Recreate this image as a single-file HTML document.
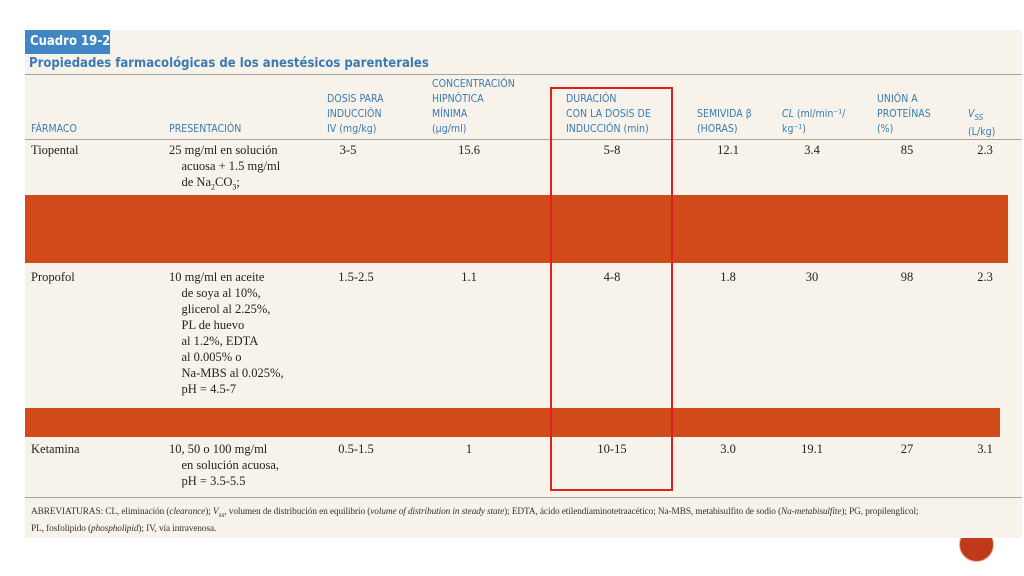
<!DOCTYPE html>
<html><head><meta charset="utf-8"><style>
body{margin:0;width:1024px;height:576px;background:#fff;position:relative;overflow:hidden;font-family:"Liberation Serif",serif}
.a{position:absolute;white-space:nowrap}
.h{font-family:"DejaVu Sans Condensed","DejaVu Sans",sans-serif;color:#3a7bb5;font-size:10.5px;line-height:15px}
.t{font-size:12.5px;line-height:16px;color:#222}
.c{text-align:center;width:80px}
.ln{position:absolute;left:25px;width:997px;height:1px;background:#a8a49a}
</style></head><body>
<div class="a" style="left:959px;top:527px;width:33px;height:33px;border-radius:50%;background:#c0391b;border:1px solid #e8b0a0"></div>
<div class="a" style="left:25px;top:30px;width:997px;height:508px;background:#f7f3ea"></div>
<div class="a" style="left:25px;top:30px;width:85px;height:24px;background:#3f86c2;color:#fff;font:bold 13px 'DejaVu Sans Condensed','DejaVu Sans',sans-serif;line-height:24px;text-indent:5px">Cuadro 19-2</div>
<div class="a" style="left:29px;top:56px;color:#3a7bb5;font:bold 13px 'DejaVu Sans Condensed','DejaVu Sans',sans-serif;line-height:16px">Propiedades farmacológicas de los anestésicos parenterales</div>
<div class="ln" style="top:74px"></div>
<div class="ln" style="top:139px"></div>
<div class="ln" style="top:497px"></div>
<div class="a h" style="left:31px;top:122px">FÁRMACO</div>
<div class="a h" style="left:169px;top:122px">PRESENTACIÓN</div>
<div class="a h" style="left:327px;top:92px">DOSIS PARA<br>INDUCCIÓN<br>IV (mg/kg)</div>
<div class="a h" style="left:432px;top:77px">CONCENTRACIÓN<br>HIPNÓTICA<br>MÍNIMA<br>(μg/ml)</div>
<div class="a h" style="left:566px;top:92px">DURACIÓN<br>CON LA DOSIS DE<br>INDUCCIÓN (min)</div>
<div class="a h" style="left:697px;top:107px">SEMIVIDA β<br>(HORAS)</div>
<div class="a h" style="left:782px;top:107px"><i>CL</i> (ml/min⁻¹/<br>kg⁻¹)</div>
<div class="a h" style="left:877px;top:92px">UNIÓN A<br>PROTEÍNAS<br>(%)</div>
<div class="a h" style="left:968px;top:107px"><i>V<sub style="font-size:8px">SS</sub></i><br>(L/kg)</div>

<div class="a t" style="left:31px;top:142px">Tiopental</div>
<div class="a t" style="left:169px;top:142px">25 mg/ml en solución<br>&nbsp;&nbsp;&nbsp;&nbsp;acuosa + 1.5 mg/ml<br>&nbsp;&nbsp;&nbsp;&nbsp;de Na<sub style="font-size:8px">2</sub>CO<sub style="font-size:8px">3</sub>;</div>
<div class="a t c" style="left:308px;top:142px">3-5</div>
<div class="a t c" style="left:429px;top:142px">15.6</div>
<div class="a t c" style="left:572px;top:142px">5-8</div>
<div class="a t c" style="left:688px;top:142px">12.1</div>
<div class="a t c" style="left:772px;top:142px">3.4</div>
<div class="a t c" style="left:867px;top:142px">85</div>
<div class="a t c" style="left:945px;top:142px">2.3</div>

<div class="a t" style="left:31px;top:269px">Propofol</div>
<div class="a t" style="left:169px;top:269px">10 mg/ml en aceite<br>&nbsp;&nbsp;&nbsp;&nbsp;de soya al 10%,<br>&nbsp;&nbsp;&nbsp;&nbsp;glicerol al 2.25%,<br>&nbsp;&nbsp;&nbsp;&nbsp;PL de huevo<br>&nbsp;&nbsp;&nbsp;&nbsp;al 1.2%, EDTA<br>&nbsp;&nbsp;&nbsp;&nbsp;al 0.005% o<br>&nbsp;&nbsp;&nbsp;&nbsp;Na-MBS al 0.025%,<br>&nbsp;&nbsp;&nbsp;&nbsp;pH = 4.5-7</div>
<div class="a t c" style="left:316px;top:269px">1.5-2.5</div>
<div class="a t c" style="left:429px;top:269px">1.1</div>
<div class="a t c" style="left:572px;top:269px">4-8</div>
<div class="a t c" style="left:688px;top:269px">1.8</div>
<div class="a t c" style="left:772px;top:269px">30</div>
<div class="a t c" style="left:867px;top:269px">98</div>
<div class="a t c" style="left:945px;top:269px">2.3</div>

<div class="a t" style="left:31px;top:441px">Ketamina</div>
<div class="a t" style="left:169px;top:441px">10, 50 o 100 mg/ml<br>&nbsp;&nbsp;&nbsp;&nbsp;en solución acuosa,<br>&nbsp;&nbsp;&nbsp;&nbsp;pH = 3.5-5.5</div>
<div class="a t c" style="left:316px;top:441px">0.5-1.5</div>
<div class="a t c" style="left:429px;top:441px">1</div>
<div class="a t c" style="left:572px;top:441px">10-15</div>
<div class="a t c" style="left:688px;top:441px">3.0</div>
<div class="a t c" style="left:772px;top:441px">19.1</div>
<div class="a t c" style="left:867px;top:441px">27</div>
<div class="a t c" style="left:945px;top:441px">3.1</div>

<div class="a" style="left:31px;top:505px;font-size:9.3px;line-height:15px;color:#333;letter-spacing:-0.1px">ABREVIATURAS: CL, eliminación (<i>clearance</i>); <i>V<sub>ss</sub></i>, volumen de distribución en equilibrio (<i>volume of distribution in steady state</i>); EDTA, ácido etilendiaminotetraacético; Na-MBS, metabisulfito de sodio (<i>Na-metabisulfite</i>); PG, propilenglicol;<br>PL, fosfolípido (<i>phospholipid</i>); IV, vía intravenosa.</div>

<div class="a" style="left:25px;top:195px;width:983px;height:68px;background:#d04a1a"></div>
<div class="a" style="left:25px;top:408px;width:975px;height:29px;background:#d04a1a"></div>
<div class="a" style="left:550px;top:87px;width:119px;height:400px;border:2px solid #e02020"></div>
</body></html>
